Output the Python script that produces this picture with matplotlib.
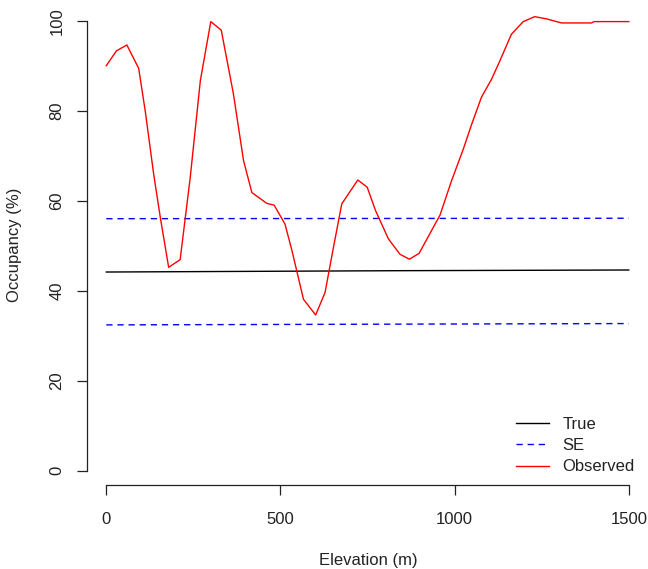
import matplotlib
matplotlib.use("Agg")
import matplotlib.pyplot as plt

plt.rcParams['font.family'] = ['Liberation Sans', 'DejaVu Sans']

# =========================
# Datos
# =========================
elev_obs = [0, 29, 59, 93, 112, 136, 155, 179, 212, 241, 270, 300, 330, 365,
            394, 418, 461, 482, 513, 533, 566, 601, 628, 652, 676, 695, 722,
            749, 773, 810, 843, 870, 898, 958, 991, 1025, 1049, 1077, 1106,
            1130, 1163, 1197, 1230, 1264, 1307, 1393, 1400, 1500]
occ_obs = [90.0, 93.3, 94.6, 89.4, 79.8, 65.9, 56.3, 45.2, 46.9, 65.2, 86.7,
           99.8, 97.9, 83.7, 68.9, 61.8, 59.4, 59.0, 54.8, 48.9, 38.1, 34.6,
           39.6, 49.6, 59.3, 61.5, 64.6, 63.0, 57.8, 51.5, 48.1, 47.0, 48.3,
           56.8, 64.4, 71.5, 77.0, 83.0, 87.0, 91.1, 97.0, 99.8, 100.9,
           100.4, 99.5, 99.5, 99.8, 99.8]

elev_true = [0, 848, 1500]
occ_true = [44.15, 44.45, 44.6]

elev_se = [0, 1500]
se_upper = [56.0, 56.1]
se_lower = [32.4, 32.7]

x_ticks = [0, 500, 1000, 1500]
y_ticks = [0, 20, 40, 60, 80, 100]

# =========================
# Figura
# =========================
W, H = 648, 569
fig = plt.figure(figsize=(W / 100, H / 100), dpi=100)
ax = fig.add_axes([85.4 / W, 1 - 488.7 / H, (649.7 - 85.4) / W, (488.7 - 2.7) / H])
ax.set_xlim(-60, 1560)
ax.set_ylim(-4, 104)

ax.plot(elev_true, occ_true, color='black', lw=1.0, label='True')
ax.plot(elev_se, se_upper, color='blue', lw=1.0, dashes=(4.5, 3.5), label='SE')
ax.plot(elev_se, se_lower, color='blue', lw=1.0, dashes=(4.5, 3.5))
ax.plot(elev_obs, occ_obs, color='red', lw=1.0, label='Observed')

# Ejes estilo R
for lado in ['top', 'right']:
    ax.spines[lado].set_visible(False)
ax.spines['left'].set_position(('data', -56))
ax.spines['bottom'].set_position(('data', -3.2))
ax.spines['left'].set_bounds(0, 100)
ax.spines['bottom'].set_bounds(0, 1500)
for lado in ['left', 'bottom']:
    ax.spines[lado].set_linewidth(0.9)
    ax.spines[lado].set_color('#222222')

ax.set_xticks(x_ticks)
ax.set_yticks(y_ticks)
ax.set_xticklabels([str(v) for v in x_ticks])
ax.set_yticklabels([str(v) for v in y_ticks], rotation=90, va='center')
ax.tick_params(axis='both', length=7.5, width=0.9, color='#222222',
               labelsize=12, labelcolor='#222222')
ax.tick_params(axis='x', pad=12)
ax.tick_params(axis='y', pad=8.5)

fig.text(368 / W, 1 - 560 / H, 'Elevation (m)', ha='center', va='center',
         fontsize=12, color='#222222')
fig.text(15 / W, 1 - 245 / H, 'Occupancy (%)', ha='center', va='center',
         rotation=90, fontsize=12, color='#222222')

ax.legend(loc='upper left', bbox_to_anchor=(516 / W, 1 - 417 / H),
          bbox_transform=fig.transFigure, frameon=False, fontsize=12,
          handlelength=2.0, handletextpad=0.8, labelspacing=0.37,
          borderpad=0, borderaxespad=0, labelcolor='#222222')

fig.savefig('out.png', dpi=100)
